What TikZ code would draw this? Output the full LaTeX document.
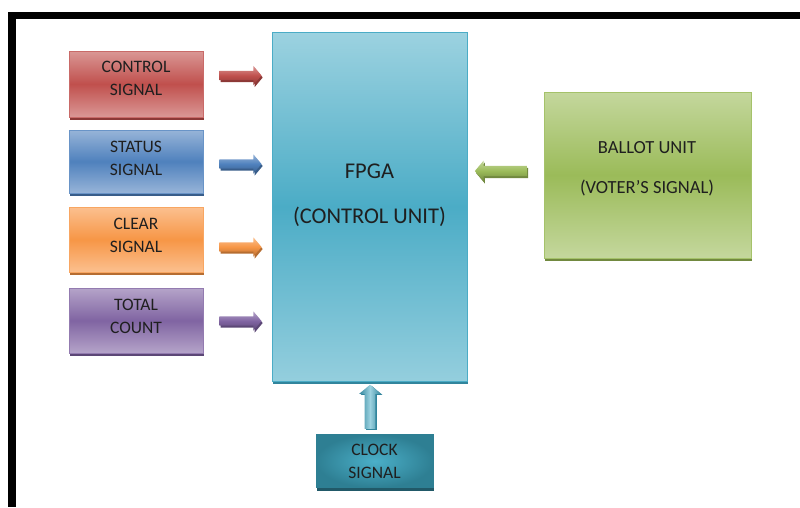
\documentclass[tikz,border=0pt]{standalone}
\usepackage{fontspec}
\setmainfont{Carlito}
\usetikzlibrary{shapes.arrows,shadows}
\definecolor{redL}{HTML}{DA9795}\definecolor{redM}{HTML}{C0504D}\definecolor{redS}{HTML}{8C3836}
\definecolor{bluL}{HTML}{97B4D8}\definecolor{bluM}{HTML}{4F81BD}\definecolor{bluS}{HTML}{385D8A}
\definecolor{orgL}{HTML}{FBC08F}\definecolor{orgM}{HTML}{F79646}\definecolor{orgS}{HTML}{B66D31}
\definecolor{purL}{HTML}{B5A4C9}\definecolor{purM}{HTML}{8064A2}\definecolor{purS}{HTML}{5C4776}
\definecolor{grnL}{HTML}{C4D79D}\definecolor{grnM}{HTML}{9BBB59}\definecolor{grnS}{HTML}{71893F}
\definecolor{aquL}{HTML}{9CD2E0}\definecolor{aquM}{HTML}{4BACC6}\definecolor{aquS}{HTML}{31859C}
\definecolor{clkO}{HTML}{2E7F93}\definecolor{clkI}{HTML}{4BAFC8}\definecolor{clkS}{HTML}{215968}
\definecolor{txt}{HTML}{1F1F1F}
\tikzset{
  x=1pt, y=-1pt,
  sigbox/.style={draw=#1M!85!white, line width=0.8pt, top color=#1L, bottom color=#1L, middle color=#1M,
    general shadow={fill=#1S, shadow xshift=1pt, shadow yshift=-3pt}},
  boxtext/.style={align=center, font=\fontsize{17.5}{23}\selectfont, text=txt},
  blockarrow/.style={single arrow, draw=none, minimum height=42pt, minimum width=19pt, inner sep=4.5pt,
    single arrow head extend=5pt, single arrow tip angle=100,
    top color=#1L, bottom color=#1S, middle color=#1M,
    general shadow={fill=#1S, shadow xshift=1.2pt, shadow yshift=-2pt}},
  lbl/.style={align=center, text=txt}
}
\begin{document}
\begin{tikzpicture}
\useasboundingbox (0,0) rectangle (800,507);
\fill[white] (0,0) rectangle (800,507);
% frame
\fill[black] (8,12) rectangle (800,19);
\fill[black] (8,12) rectangle (16,507);
% left signal boxes
\node[sigbox=red, minimum width=134pt, minimum height=66pt,
  label={[boxtext, yshift=6pt]center:{CONTROL\\SIGNAL}}] (ctrl) at (136,84) {};
\node[sigbox=blu, minimum width=134pt, minimum height=63pt,
  label={[boxtext, yshift=3.5pt]center:{STATUS\\SIGNAL}}] (stat) at (136,161.5) {};
\node[sigbox=org, minimum width=134pt, minimum height=65pt,
  label={[boxtext, yshift=4pt]center:{CLEAR\\SIGNAL}}] (clr) at (136,239.5) {};
\node[sigbox=pur, minimum width=134pt, minimum height=65pt,
  label={[boxtext, yshift=4.5pt]center:{TOTAL\\COUNT}}] (tot) at (136,320.5) {};
% FPGA
\node[draw=aquM, line width=0.8pt, top color=aquL, bottom color=aquL!90!aquM, middle color=aquM,
  general shadow={fill=aquS, shadow xshift=1pt, shadow yshift=-3pt},
  minimum width=195pt, minimum height=349pt] (fpga) at (369.5,206.5) {};
\node[lbl, font=\fontsize{22.5}{45}\selectfont] (fpgatext) at (369.5,195) {FPGA\\(CONTROL UNIT)};
% ballot unit
\node[draw=grnM!90!white, line width=0.8pt, top color=grnL, bottom color=grnL, middle color=grnM,
  general shadow={fill=grnS, shadow xshift=1pt, shadow yshift=-3pt},
  minimum width=207pt, minimum height=166pt] (ballot) at (647.5,175) {};
\node[lbl, font=\fontsize{18.5}{40}\selectfont] (ballottext) at (647,169) {BALLOT UNIT\\(VOTER’S SIGNAL)};
% clock
\node[draw=clkO, line width=0.6pt, inner color=clkI, outer color=clkO,
  general shadow={fill=clkS, shadow xshift=1pt, shadow yshift=-3pt},
  minimum width=117pt, minimum height=53pt,
  label={[boxtext]center:{CLOCK\\SIGNAL}}] (clk) at (374.5,461) {};
% block arrows
\node[blockarrow=red] (actrl) at (238.5,75.5) {};
\node[blockarrow=blu] (astat) at (238.5,164) {};
\node[blockarrow=org] (aclr) at (238.5,247) {};
\node[blockarrow=pur] (atot) at (238.5,321) {};
\node[blockarrow=grn, shape border rotate=180, minimum height=52pt, minimum width=21pt] (aball) at (503,171) {};
\node[single arrow, draw=none, minimum height=44pt, minimum width=22pt, inner sep=5pt,
  single arrow head extend=5.5pt, single arrow tip angle=100, shape border rotate=90,
  left color=aquS, right color=aquS, middle color=aquL,
  general shadow={fill=aquS, shadow xshift=1.5pt, shadow yshift=-1pt}] (aclk) at (370,409) {};
\end{tikzpicture}
\end{document}
